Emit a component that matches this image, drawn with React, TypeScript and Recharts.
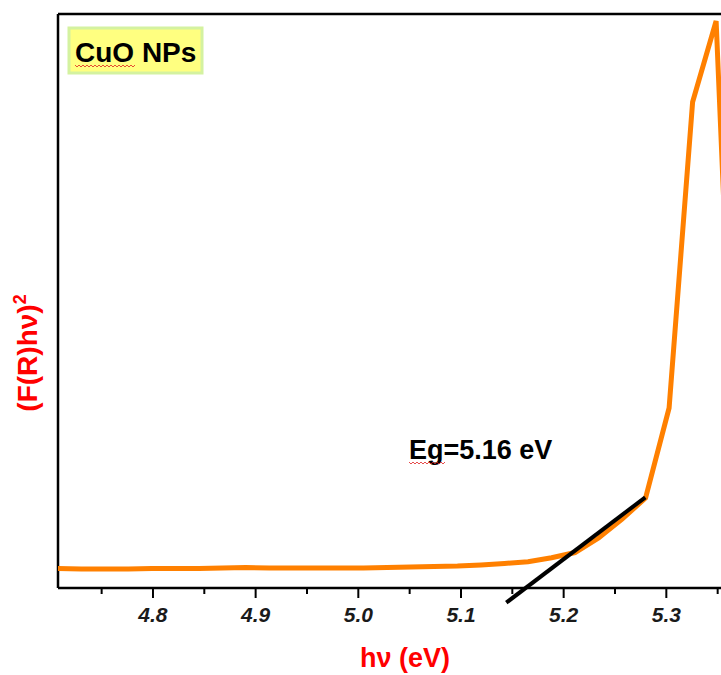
import React from 'react';
import { LineChart, Line, XAxis, YAxis, ReferenceLine } from 'recharts';

// photon energy (eV)
const energy = [
  4.7073, 4.7302, 4.7531, 4.776, 4.7989, 4.8218, 4.8447, 4.8676, 4.8905, 4.9134,
  4.9363, 4.9592, 4.9821, 5.005, 5.0279, 5.0508, 5.0737, 5.0966, 5.1195, 5.1424,
  5.1653, 5.1882, 5.2111, 5.234, 5.2569, 5.2798, 5.3027, 5.3256, 5.3485, 5.3714,
];
// (F(R)hv)^2, arbitrary units
const absorb = [
  3.4, 3.31, 3.31, 3.31, 3.4, 3.4, 3.4, 3.48, 3.57, 3.48,
  3.48, 3.48, 3.48, 3.48, 3.57, 3.66, 3.75, 3.83, 4.01, 4.27,
  4.58, 5.28, 6.18, 8.71, 12.02, 15.68, 31.36, 84.67, 98.78, 1.74,
];
// tangent (Tauc extrapolation) line
const tangentX = [5.1441, 5.2795];
const tangentY = [-2.56, 15.8];

const allTicks = [4.75, 4.8, 4.85, 4.9, 4.95, 5.0, 5.05, 5.1, 5.15, 5.2, 5.25, 5.3, 5.35];
const majorTicks = [4.8, 4.9, 5.0, 5.1, 5.2, 5.3];
const tickLabels = ['4.8', '4.9', '5.0', '5.1', '5.2', '5.3'];

const xMin = 4.7075;
const xMax = 5.4;
const yMin = 0;
const yMax = 100;

const data = energy.map((e, i) => ({ e, v: absorb[i] }));

const FONT = '"Liberation Sans", Arial, sans-serif';

const XTick = (props: any) => {
  const { x, y, payload } = props;
  const idx = majorTicks.findIndex((m) => Math.abs(m - payload.value) < 1e-6);
  const major = idx >= 0;
  return (
    <g>
      <line x1={x} x2={x} y1={y} y2={y + (major ? 10 : 6)} stroke="#000" strokeWidth={2} />
      {major && (
        <text
          x={x}
          y={y + 34}
          textAnchor="middle"
          fontFamily={FONT}
          fontStyle="italic"
          fontWeight="bold"
          fontSize={21}
          fill="#1a1a1a"
        >
          {tickLabels[idx]}
        </text>
      )}
    </g>
  );
};

export default function App() {
  return (
    <div
      style={{
        position: 'absolute',
        left: 0,
        top: 0,
        width: 721,
        height: 675,
        overflow: 'hidden',
        background: '#fff',
      }}
    >
      <LineChart
        width={769}
        height={675}
        data={data}
        margin={{ top: 14, right: 0, bottom: 0, left: 58 }}
      >
        <XAxis
          type="number"
          dataKey="e"
          domain={[xMin, xMax]}
          allowDataOverflow
          ticks={allTicks}
          interval={0}
          tick={<XTick />}
          tickLine={false}
          tickSize={0}
          tickMargin={0}
          height={87}
          axisLine={{ stroke: '#000', strokeWidth: 2.5 }}
        />
        <YAxis type="number" domain={[yMin, yMax]} hide allowDataOverflow />
        <ReferenceLine x={xMin} stroke="#000" strokeWidth={2.5} />
        <ReferenceLine y={yMax} stroke="#000" strokeWidth={2.5} />
        <Line
          type="linear"
          dataKey="v"
          stroke="#ff8000"
          strokeWidth={5}
          dot={false}
          isAnimationActive={false}
        />
        <ReferenceLine
          segment={[
            { x: tangentX[0], y: tangentY[0] },
            { x: tangentX[1], y: tangentY[1] },
          ]}
          ifOverflow="visible"
          stroke="#000"
          strokeWidth={4}
        />
      </LineChart>
      <svg
        width={721}
        height={675}
        style={{ position: 'absolute', left: 0, top: 0, pointerEvents: 'none' }}
      >
        <rect x={69} y={28} width={133} height={45} fill="#ffff80" stroke="#d4f2a0" strokeWidth={3} />
        <text x={75} y={62} fontFamily={FONT} fontWeight="bold" fontSize={28} fill="#000">
          CuO NPs
        </text>
        <polyline
          points="75,65 77,67 79,65 81,67 83,65 85,67 87,65 89,67 91,65 93,67 95,65 97,67 99,65 101,67 103,65 105,67 107,65 109,67 111,65 113,67 115,65 117,67 119,65 121,67 123,65 125,67 127,65 129,67 131,65 133,67 135,65"
          fill="none"
          stroke="#e02020"
          strokeWidth={0.8}
        />
        <text x={409} y={459} fontFamily={FONT} fontWeight="bold" fontSize={27} fill="#000">
          Eg=5.16 eV
        </text>
        <polyline
          points="409,462 411,464 413,462 415,464 417,462 419,464 421,462 423,464 425,462 427,464 429,462 431,464 433,462 435,464 437,462 439,464 441,462 443,464 445,462"
          fill="none"
          stroke="#e02020"
          strokeWidth={0.8}
        />
        <text
          x={405}
          y={667}
          textAnchor="middle"
          fontFamily={FONT}
          fontWeight="bold"
          fontSize={27}
          fill="#ff0000"
        >
          hν (eV)
        </text>
        <text
          transform="translate(37,353) rotate(-90)"
          x={0}
          y={0}
          textAnchor="middle"
          fontFamily={FONT}
          fontWeight="bold"
          fontSize={28}
          fill="#ff0000"
        >
          (F(R)hν)
          <tspan fontSize={18} dy={-11}>2</tspan>
        </text>
      </svg>
    </div>
  );
}
